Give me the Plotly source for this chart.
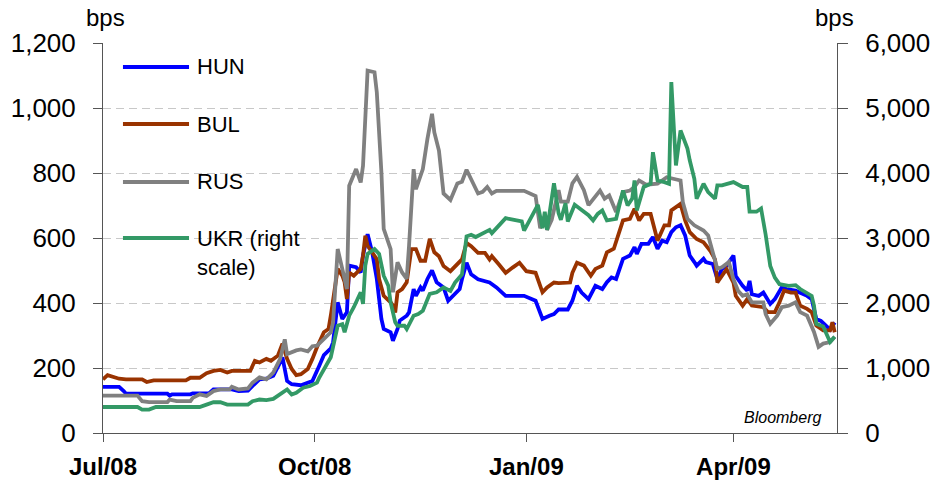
import pandas as pd
import plotly.graph_objects as go

BASE_DATE = "2008-07-01"

# x ticks
tick_dates = ["2008-07-01", "2008-10-01", "2009-01-01", "2009-04-01"]
tick_labels = ["Jul/08", "Oct/08", "Jan/09", "Apr/09"]

# days since BASE_DATE and spread values (bps)
hun_day = [0, 7, 9, 10, 28, 29, 30, 38, 39, 46,
           48, 56, 59, 63, 65, 68, 71, 74, 77, 78,
           80, 82, 86, 89, 91, 94, 96, 99, 100, 102,
           104, 106, 107, 110, 112, 113, 115, 117, 119, 121,
           122, 125, 126, 128, 129, 132, 133, 135, 136, 138,
           139, 141, 143, 145, 148, 150, 153, 155, 156, 158,
           160, 163, 168, 171, 175, 183, 188, 191, 194, 196,
           198, 202, 204, 206, 208, 211, 214, 217, 219, 221,
           223, 226, 229, 231, 232, 234, 237, 239, 241, 243,
           245, 247, 249, 251, 253, 255, 257, 258, 261, 262,
           265, 267, 269, 271, 274, 275, 278, 280, 281, 282,
           285, 287, 290, 292, 295, 297, 301, 306, 308, 310,
           312, 314, 316, 318]
hun_bps = [142, 142, 129, 121, 121, 115, 119, 119, 122, 122,
           134, 134, 129, 130, 145, 165, 167, 176, 217, 233,
           160, 150, 147, 155, 160, 207, 240, 260, 279, 402,
           351, 371, 515, 510, 494, 546, 612, 556, 474, 351,
           320, 310, 284, 320, 346, 361, 371, 443, 422, 448,
           438, 474, 500, 464, 448, 407, 427, 443, 473, 524,
           488, 473, 463, 448, 422, 422, 407, 351, 361, 366,
           380, 380, 407, 453, 432, 412, 453, 443, 464, 479,
           474, 536, 546, 572, 551, 582, 582, 603, 567, 592,
           587, 618, 633, 639, 608, 546, 526, 515, 536, 526,
           520, 474, 505, 515, 546, 483, 453, 438, 468, 427,
           422, 432, 397, 412, 448, 443, 438, 422, 412, 351,
           345, 330, 318, 340]

bul_day = [0, 2, 7, 10, 17, 19, 22, 36, 38, 42,
           45, 48, 51, 54, 56, 64, 65, 66, 68, 71,
           73, 76, 78, 80, 82, 84, 86, 89, 91, 93,
           96, 98, 99, 101, 102, 104, 105, 106, 107, 109,
           112, 113, 114, 115, 117, 119, 120, 122, 125, 126,
           127, 128, 130, 132, 134, 136, 138, 140, 142, 144,
           146, 148, 151, 153, 156, 158, 160, 163, 166, 168,
           169, 172, 175, 178, 181, 184, 188, 191, 193, 196,
           198, 203, 204, 206, 209, 212, 214, 217, 219, 222,
           224, 226, 229, 231, 233, 235, 238, 241, 244, 246,
           247, 251, 253, 255, 258, 261, 264, 266, 267, 269,
           271, 274, 275, 278, 280, 282, 287, 289, 292, 294,
           296, 299, 301, 303, 306, 308, 310, 313, 316, 317,
           318]
bul_bps = [165, 178, 167, 165, 165, 157, 162, 162, 170, 170,
           184, 191, 194, 186, 191, 191, 207, 222, 217, 228,
           222, 238, 275, 228, 197, 178, 181, 197, 228, 264,
           310, 320, 361, 464, 505, 484, 464, 412, 494, 484,
           505, 546, 607, 576, 556, 535, 474, 422, 402, 392,
           371, 433, 443, 464, 566, 566, 530, 530, 597, 556,
           544, 514, 498, 514, 534, 585, 575, 554, 554, 534,
           544, 519, 493, 509, 524, 498, 493, 433, 448, 463,
           461, 463, 493, 524, 515, 484, 505, 515, 556, 567,
           608, 654, 659, 690, 654, 674, 674, 592, 639, 639,
           685, 705, 654, 618, 597, 587, 560, 534, 463, 485,
           504, 463, 422, 392, 412, 392, 387, 372, 372, 402,
           438, 432, 432, 392, 382, 372, 331, 316, 316, 341,
           310]

rus_day = [0, 3, 15, 17, 20, 28, 29, 32, 38, 39,
           42, 45, 48, 51, 55, 56, 59, 63, 65, 68,
           71, 74, 77, 79, 80, 84, 86, 89, 91, 93,
           96, 99, 100, 102, 104, 106, 107, 110, 112, 113,
           115, 118, 119, 121, 122, 125, 126, 128, 130, 132,
           133, 135, 136, 139, 141, 143, 144, 146, 148, 151,
           154, 156, 158, 160, 163, 165, 167, 169, 171, 183,
           188, 190, 192, 193, 195, 198, 199, 202, 204, 206,
           209, 211, 214, 216, 218, 220, 223, 226, 229, 231,
           233, 236, 241, 245, 251, 252, 254, 257, 261, 263,
           265, 267, 269, 272, 274, 276, 278, 280, 282, 287,
           288, 290, 293, 295, 298, 301, 303, 306, 309, 311,
           313, 316, 318]
rus_bps = [115, 115, 115, 98, 95, 95, 103, 98, 98, 108,
           119, 114, 129, 134, 134, 142, 134, 137, 155, 171,
           165, 186, 228, 288, 243, 254, 257, 251, 267, 269,
           289, 310, 340, 566, 505, 443, 761, 812, 771, 822,
           1115, 1110, 1048, 802, 628, 566, 433, 525, 494, 474,
           576, 812, 750, 812, 905, 982, 925, 869, 737, 717,
           768, 773, 810, 783, 737, 742, 757, 737, 745, 745,
           729, 630, 666, 625, 656, 747, 712, 712, 768, 788,
           747, 701, 731, 746, 721, 731, 680, 741, 746, 757,
           777, 764, 767, 787, 777, 710, 659, 639, 623, 608,
           556, 505, 510, 526, 473, 438, 422, 427, 402, 402,
           366, 336, 361, 387, 392, 402, 372, 361, 311, 265,
           275, 280, 296]

ukr_day = [0, 15, 17, 20, 23, 42, 45, 48, 51, 54,
           63, 65, 68, 71, 74, 77, 80, 82, 84, 87,
           90, 93, 94, 99, 102, 104, 105, 107, 109, 112,
           113, 114, 115, 118, 120, 122, 124, 125, 127, 128,
           131, 132, 135, 137, 139, 142, 145, 148, 151, 153,
           156, 158, 160, 162, 165, 168, 169, 172, 175, 177,
           182, 183, 185, 189, 191, 192, 193, 196, 198, 199,
           201, 202, 205, 208, 211, 213, 215, 217, 219, 223,
           226, 228, 230, 231, 232, 235, 238, 239, 241, 244,
           246, 247, 249, 251, 254, 255, 257, 258, 261, 263,
           266, 267, 269, 274, 278, 280, 281, 284, 286, 288,
           290, 292, 294, 298, 301, 303, 306, 308, 309, 310,
           313, 316, 318]
ukr_bps = [400, 400, 360, 360, 400, 400, 437, 473, 473, 437,
           437, 489, 515, 505, 525, 593, 671, 593, 619, 697,
           723, 775, 853, 1165, 1650, 1675, 1550, 1805, 1935, 2165,
           1985, 2575, 2755, 2830, 2755, 2420, 2265, 2010, 1705, 1650,
           1650, 1600, 1805, 1830, 1880, 2140, 2165, 2240, 2185, 2315,
           2440, 3025, 3050, 3015, 3065, 3125, 3075, 3200, 3305, 3290,
           3255, 3115, 3255, 3510, 3150, 3405, 3125, 3840, 3380, 3280,
           3535, 3255, 3510, 3435, 3350, 3270, 3370, 3425, 3270, 3295,
           3730, 3500, 3605, 3885, 3425, 3785, 3835, 4320, 3885, 3860,
           3835, 5400, 4115, 4655, 4375, 4195, 3910, 3605, 3835, 3705,
           3605, 3810, 3810, 3860, 3785, 3785, 3405, 3405, 3455, 3050,
           2570, 2390, 2290, 2265, 2275, 2215, 2160, 2110, 1960, 1680,
           1640, 1400, 1480]

series_names = ["HUN", "BUL", "RUS", "UKR (right<br>scale)"]
series_colors = ["#0000FF", "#993300", "#808080", "#339966"]

X_END = "2009-05-16"
FONT = "Liberation Sans, Arial, sans-serif"


def to_dates(days):
    return pd.Timestamp(BASE_DATE) + pd.to_timedelta(days, unit="D")


fig = go.Figure()
data = [(hun_day, hun_bps, "y"), (bul_day, bul_bps, "y"),
        (rus_day, rus_bps, "y"), (ukr_day, ukr_bps, "y2")]
for (d, v, ax), name, col in zip(data, series_names, series_colors):
    assert len(d) == len(v)
    fig.add_trace(go.Scatter(x=to_dates(d), y=v, mode="lines", name=name,
                             yaxis=ax, line=dict(color=col, width=3.8),
                             showlegend=False, hoverinfo="skip"))

axis_col = "#555555"
fig.update_layout(
    width=937, height=485, autosize=False,
    margin=dict(l=103, r=100, t=43, b=52, autoexpand=False),
    paper_bgcolor="white", plot_bgcolor="white",
    font=dict(family=FONT, size=26, color="black"),
    xaxis=dict(type="date", range=[BASE_DATE, X_END], automargin=False,
               tickvals=tick_dates,
               ticktext=["<b>%s</b>" % t for t in tick_labels],
               ticks="outside", ticklen=8, tickcolor=axis_col,
               showline=True, linecolor=axis_col, linewidth=1,
               showgrid=False, zeroline=False,
               tickfont=dict(size=24), ticklabelstandoff=4),
    yaxis=dict(range=[0, 1200], dtick=200, tickformat=",d", automargin=False,
               ticks="outside", ticklen=9, tickcolor=axis_col,
               showline=True, linecolor=axis_col, linewidth=1,
               showgrid=True, gridcolor="#C8C8C8", griddash="8px,5px",
               gridwidth=1, zeroline=False, ticklabelstandoff=12),
    yaxis2=dict(range=[0, 6000], dtick=1000, tickformat=",d",
                automargin=False,
                overlaying="y", side="right", anchor="x",
                ticks="outside", ticklen=10, tickcolor=axis_col,
                showline=True, linecolor=axis_col, linewidth=1,
                showgrid=False, zeroline=False, ticklabelstandoff=12),
    yaxis3=dict(range=[0, 6000], dtick=1000, overlaying="y",
                automargin=False,
                side="right", anchor="x", ticks="inside", ticklen=10,
                tickcolor=axis_col, showticklabels=False,
                showline=False, showgrid=False, zeroline=False),
)

# axis unit labels
fig.add_annotation(text="bps", xref="paper", yref="paper", x=0.003,
                   y=1.065, showarrow=False, font=dict(size=24),
                   xanchor="center", yanchor="middle")
fig.add_annotation(text="bps", xref="paper", yref="paper", x=0.997,
                   y=1.065, showarrow=False, font=dict(size=24),
                   xanchor="center", yanchor="middle")
fig.add_annotation(text="<i>Bloomberg</i>", xref="paper", yref="paper",
                   x=0.981, y=0.041, showarrow=False, font=dict(size=16),
                   xanchor="right", yanchor="middle")

# manual legend
leg_y = [0.9385, 0.7923, 0.6436, 0.5]
for name, col, yy in zip(series_names, series_colors, leg_y):
    fig.add_shape(type="line", xref="paper", yref="paper",
                  x0=0.0272, x1=0.1172, y0=yy, y1=yy,
                  line=dict(color=col, width=3.8))
    multi = "<br>" in name
    fig.add_annotation(text=name, xref="paper", yref="paper", x=0.1253,
                       y=(yy - 0.0385) if multi else yy,
                       showarrow=False, font=dict(size=22),
                       xanchor="left", yanchor="middle", align="left")

# remove the browser's default 8px page margin so the figure sits at (0, 0)
fig.write_html("out.html", config={"displayModeBar": False},
               post_script="document.body.style.margin='0px';")
